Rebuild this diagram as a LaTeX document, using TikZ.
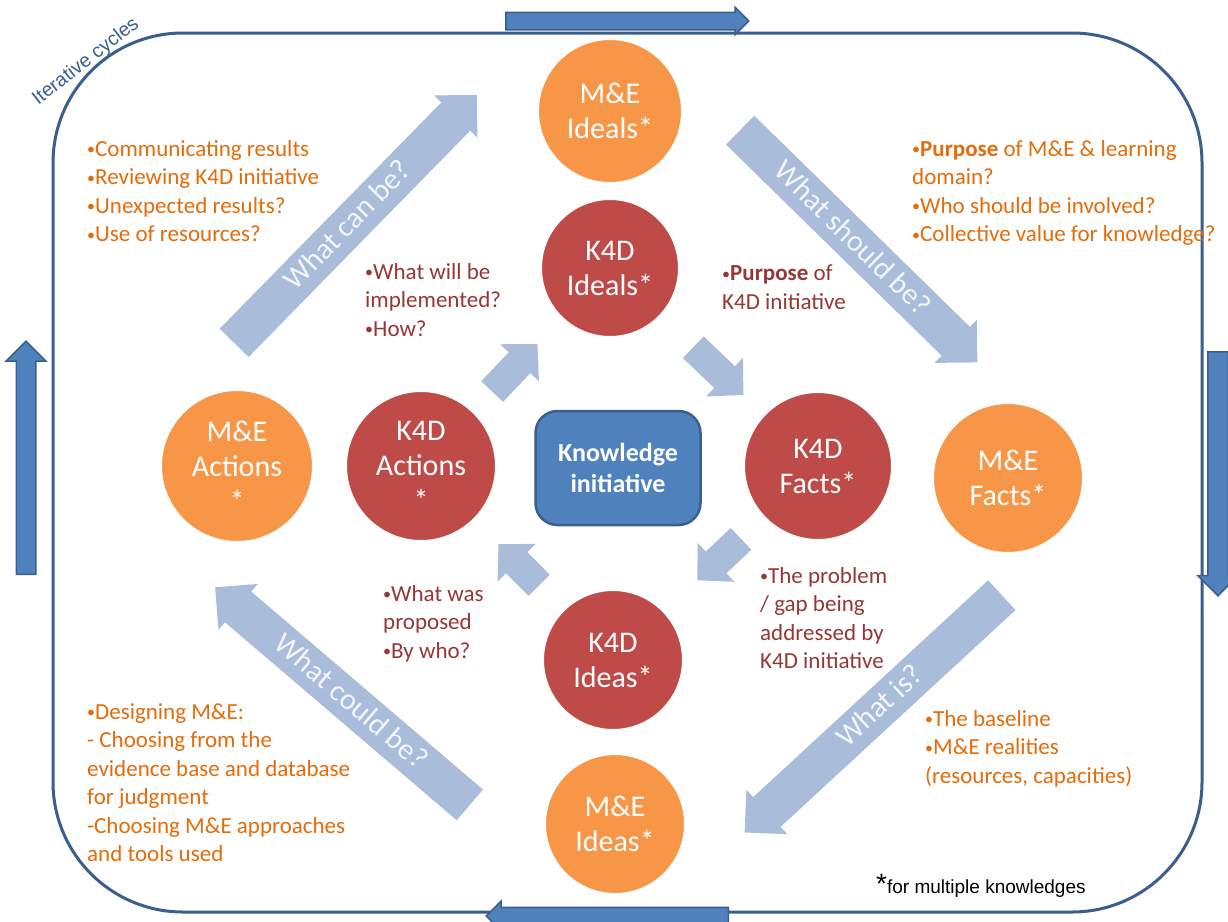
\documentclass[tikz,border=0pt]{standalone}
\usepackage{fontspec}
\setmainfont{Carlito}
\newfontfamily\arialfont{Liberation Sans}
\usetikzlibrary{shapes.arrows,arrows.meta,shadows}

\definecolor{meorange}{HTML}{F79646}
\definecolor{kred}{HTML}{BE4B48}
\definecolor{txtorange}{HTML}{E46C0A}
\definecolor{txtred}{HTML}{953735}
\definecolor{arrowblue}{HTML}{A9BCDA}
\definecolor{frameblue}{HTML}{3A5F8E}
\definecolor{boxblue}{HTML}{4F81BD}
\newcommand\bul{\raisebox{1.5pt}{\fontsize{16}{16}\selectfont•}}

\begin{document}
\begin{tikzpicture}[x=1pt,y=-1pt,
  bubble/.style={circle,draw=white,line width=4pt,text=white,align=center,
    font=\fontsize{30}{35}\selectfont,
    drop shadow={shadow xshift=0pt,shadow yshift=-1.5pt,fill=black!45,opacity=.45}},
  mebubble/.style={bubble,fill=meorange},
  kbubble/.style={bubble,fill=kred},
  bigarrow/.style={single arrow,fill=arrowblue,single arrow tip angle=90,
    single arrow head extend=10pt,inner xsep=4pt,inner ysep=6pt,
    text height=22pt,text depth=6pt,text=white,text opacity=.85,
    font=\fontsize{30}{30}\selectfont},
  smallarrow/.style={arrowblue,line width=30pt,-{Triangle[length=26pt,width=52pt]}},
  edgearrow/.style={single arrow,draw=frameblue,line width=1.5pt,fill=boxblue,
    single arrow tip angle=90,inner xsep=0pt},
  notes/.style={align=left,anchor=north west,inner sep=0pt,
    font=\fontsize{23}{28.5}\selectfont},
  menote/.style={notes,text=txtorange},
  knote/.style={notes,text=txtred}]

\fill[white] (0,0) rectangle (1228,921);
\useasboundingbox (0,0) rectangle (1228,921);

\draw[frameblue,line width=3pt,rounded corners=130pt] (53,33) rectangle (1202,912);
\node[rotate=38,text=frameblue,font=\arialfont\fontsize{19.5}{19.5}\selectfont] (itercyc) at (86,62) {Iterative cycles};

\node[edgearrow,minimum height=243pt,inner ysep=8pt,single arrow head extend=5pt,anchor=tail] (toparrow) at (505,21) {};
\node[edgearrow,minimum height=244pt,inner ysep=9.5pt,single arrow head extend=10pt,rotate=-90,anchor=tail] (rightarrow) at (1218,351) {};
\node[edgearrow,minimum height=242pt,inner ysep=8pt,single arrow head extend=6pt,rotate=180,anchor=tail] (bottomarrow) at (729,916) {};
\node[edgearrow,minimum height=233pt,inner ysep=9pt,single arrow head extend=10pt,rotate=90,anchor=tail] (leftarrow) at (26,575) {};

\node[bigarrow,minimum height=347pt,rotate=45.6,anchor=tail] (canbe) at (234,343) {What can be?};
\node[bigarrow,minimum height=332pt,rotate=-44.4,anchor=tail] (shouldbe) at (740,130) {What should be?};
\node[bigarrow,minimum height=350pt,rotate=42.7,shape border rotate=180,anchor=tail] (whatis) at (1002,595) {What is?};
\node[bigarrow,minimum height=335pt,rotate=-40.5,shape border rotate=180,anchor=tail] (couldbe) at (470,805) {What could be?};

\node[mebubble,minimum size=146pt] (meideals) at (610,111) {M\&E\\Ideals*};
\node[kbubble,minimum size=140pt] (kideals) at (610,268) {K4D\\Ideals*};
\node[mebubble,minimum size=154pt] (meact) at (237,466) {M\&E\\Actions\\*};
\node[kbubble,minimum size=152pt] (kact) at (421,466) {K4D\\Actions\\*};
\node[kbubble,minimum size=150pt] (kfacts) at (818,466) {K4D\\Facts*};
\node[mebubble,minimum size=152pt] (mefacts) at (1008,478) {M\&E\\Facts*};
\node[kbubble,minimum size=142pt] (kideas) at (613,660) {K4D\\Ideas*};
\node[mebubble,minimum size=142pt] (meideas) at (615,824) {M\&E\\Ideas*};

\draw[smallarrow,shorten <=25pt,shorten >=33pt] (kact) -- (kideals);
\draw[smallarrow,shorten <=43pt,shorten >=26pt] (kideals) -- (kfacts);
\draw[smallarrow,shorten <=29pt,shorten >=43pt] (kfacts) -- (kideas);
\draw[smallarrow,shorten <=32pt,shorten >=32pt] (kideas) -- (kact);

\node[draw=frameblue,line width=2.5pt,fill=boxblue,rounded corners=22pt,minimum width=165pt,
  minimum height=114pt,text=white,align=center,font=\bfseries\fontsize{26}{31}\selectfont]
  (kinit) at (618,468) {Knowledge\\initiative};

\node[menote] (mecanbe) at (87,140) {\bul Communicating results\\\bul Reviewing K4D initiative\\\bul Unexpected results?\\\bul Use of resources?};
\node[menote] (meshouldbe) at (912,140) {\bul\textbf{Purpose} of M\&E \& learning\\domain?\\\bul Who should be involved?\\\bul Collective value for knowledge?};
\node[knote] (khow) at (365,263) {\bul What will be\\implemented?\\\bul How?};
\node[knote] (kpurpose) at (722,265) {\bul\textbf{Purpose} of\\K4D initiative};
\node[knote] (kwho) at (383,585) {\bul What was\\proposed\\\bul By who?};
\node[knote] (kproblem) at (760,567) {\bul The problem\\/ gap being\\addressed by\\K4D initiative};
\node[menote] (mecouldbe) at (87,703) {\bul Designing M\&E:\\- Choosing from the\\evidence base and database\\for judgment\\-Choosing M\&E approaches\\and tools used};
\node[menote] (meis) at (925,710) {\bul The baseline\\\bul M\&E realities\\(resources, capacities)};

\node[anchor=base west,inner sep=0pt,font=\arialfont\fontsize{19}{19}\selectfont] (footnote) at (876,893)
  {{\fontsize{28}{28}\selectfont *}for multiple knowledges};
\end{tikzpicture}
\end{document}
